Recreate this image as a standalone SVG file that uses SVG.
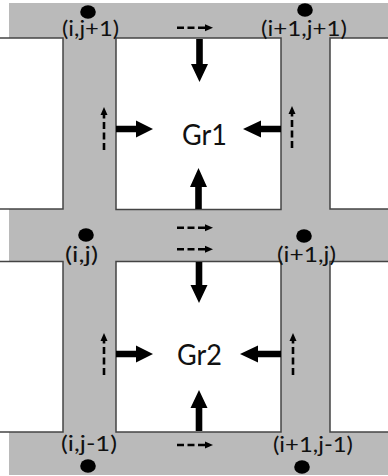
<svg xmlns="http://www.w3.org/2000/svg" width="388" height="476" viewBox="0 0 388 476">
<style>
.road{fill:#bababa;}
.blk{fill:#ffffff;stroke:#444444;stroke-width:1.5;}
.lbl{font-family:Lato,"Open Sans","Liberation Sans",sans-serif;font-size:21px;fill:#111;}
.gr{font-family:Lato,"Open Sans","Liberation Sans",sans-serif;font-size:28px;fill:#111;}
.dot{fill:#000;}
.thick{fill:#000;}
.dash{fill:none;stroke:#000;stroke-width:2.6;stroke-dasharray:7 3.5;marker-end:url(#ah);}
</style>
<defs>
<marker id="ah" viewBox="0 0 8 8" refX="0" refY="4" markerWidth="8" markerHeight="8" markerUnits="userSpaceOnUse" orient="auto">
<path d="M0,0.5 L8,4 L0,7.5 Z" fill="#000"/>
</marker>
</defs>
<rect width="388" height="476" fill="#ffffff"/>
<g id="roads">
<rect class="road" x="9" y="3" width="381" height="472"/>
<rect class="blk" x="-5" y="38" width="68" height="171"/>
<rect class="blk" x="-5" y="261.5" width="68" height="170.5"/>
<rect class="blk" x="330" y="38" width="65" height="171"/>
<rect class="blk" x="330" y="261.5" width="65" height="170.5"/>
</g>
<g id="Gr1">
<rect class="blk" x="116" y="38" width="165" height="171.5"/>
<text class="gr" x="182" y="145" textLength="45" lengthAdjust="spacingAndGlyphs">Gr1</text>
</g>
<g id="Gr2">
<rect class="blk" x="116" y="261.5" width="165" height="170.5"/>
<text class="gr" x="177" y="365" textLength="45" lengthAdjust="spacingAndGlyphs">Gr2</text>
</g>
<g id="p_i_j1">
<ellipse class="dot" cx="88" cy="12" rx="7.8" ry="6.7"/>
<text class="lbl" x="62" y="36" textLength="57" lengthAdjust="spacingAndGlyphs">(i,j+1)</text>
</g>
<g id="p_i1_j1">
<ellipse class="dot" cx="305" cy="10" rx="7.8" ry="6.7"/>
<text class="lbl" x="261" y="36" textLength="86" lengthAdjust="spacingAndGlyphs">(i+1,j+1)</text>
</g>
<g id="p_i_j">
<ellipse class="dot" cx="86" cy="235" rx="7.8" ry="6.7"/>
<text class="lbl" x="65" y="262" textLength="33" lengthAdjust="spacingAndGlyphs">(i,j)</text>
</g>
<g id="p_i1_j">
<ellipse class="dot" cx="304" cy="236" rx="7.8" ry="6.7"/>
<text class="lbl" x="277" y="262" textLength="59" lengthAdjust="spacingAndGlyphs">(i+1,j)</text>
</g>
<g id="p_i_jm1">
<ellipse class="dot" cx="88" cy="466" rx="7.8" ry="6.7"/>
<text class="lbl" x="61" y="451" textLength="56" lengthAdjust="spacingAndGlyphs">(i,j-1)</text>
</g>
<g id="p_i1_jm1">
<ellipse class="dot" cx="302" cy="467" rx="7.8" ry="6.7"/>
<text class="lbl" x="273" y="452" textLength="80" lengthAdjust="spacingAndGlyphs">(i+1,j-1)</text>
</g>
<g id="connectors">
<path class="thick" d="M196.2,39 L202.8,39 L202.8,64 L208,64 L199.5,82 L191,64 L196.2,64 Z"/>
<path class="thick" d="M195.2,209 L201.8,209 L201.8,187 L207,187 L198.5,168 L190,187 L195.2,187 Z"/>
<path class="thick" d="M195.7,262 L202.3,262 L202.3,285 L207.5,285 L199,303 L190.5,285 L195.7,285 Z"/>
<path class="thick" d="M195.7,431 L202.3,431 L202.3,408 L207.5,408 L199,390 L190.5,408 L195.7,408 Z"/>
<path class="thick" d="M116,125.7 L136,125.7 L136,120.5 L153,129 L136,137.5 L136,132.3 L116,132.3 Z"/>
<path class="thick" d="M116,350.7 L136,350.7 L136,345.5 L153,354 L136,362.5 L136,357.3 L116,357.3 Z"/>
<path class="thick" d="M281,125.7 L261,125.7 L261,120.5 L243,129 L261,137.5 L261,132.3 L281,132.3 Z"/>
<path class="thick" d="M281,350.7 L258,350.7 L258,345.5 L240,354 L258,362.5 L258,357.3 L281,357.3 Z"/>
<path class="dash" d="M177,27.7 L205,27.7"/>
<path class="dash" d="M177,227.7 L205,227.7"/>
<path class="dash" d="M177,249.3 L205,249.3"/>
<path class="dash" d="M177,445 L205,445"/>
<path class="dash" d="M104,150 L104,115"/>
<path class="dash" d="M292,148 L292,114"/>
<path class="dash" d="M104,375 L104,341"/>
<path class="dash" d="M293,375 L293,341"/>
</g>
</svg>
